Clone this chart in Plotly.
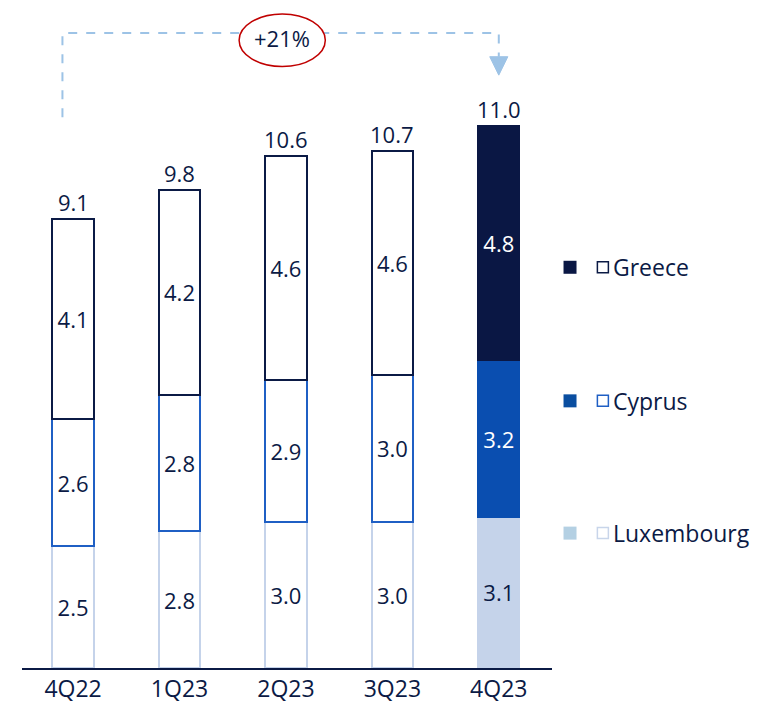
import plotly.graph_objects as go

# Data
quarters = ["4Q22", "1Q23", "2Q23", "3Q23", "4Q23"]
luxembourg = [2.5, 2.8, 3.0, 3.0, 3.1]
cyprus = [2.6, 2.8, 2.9, 3.0, 3.2]
greece = [4.1, 4.2, 4.6, 4.6, 4.8]
totals = [9.1, 9.8, 10.6, 10.7, 11.0]
growth_label = "+21%"
legend_names = ["Greece", "Cyprus", "Luxembourg"]

navy = "#0b1a45"
font_family = "Open Sans, Noto Sans, sans-serif"

fig = go.Figure()

series = [
    ("Luxembourg", luxembourg, "#c5d3ea", "#c5d3ea", navy),
    ("Cyprus", cyprus, "#0a4eb0", "#1f5fc4", "white"),
    ("Greece", greece, "#0a1744", navy, "white"),
]
n = len(quarters)
for name, vals, fill, outline, last_text in series:
    fills = ["white"] * (n - 1) + [fill]
    lines = [outline] * (n - 1) + [fill]
    tcols = [navy] * (n - 1) + [last_text]
    fig.add_trace(go.Bar(
        x=quarters, y=vals, name=name,
        width=0.39,
        marker=dict(color=fills, line=dict(color=lines, width=1.8)),
        text=[f"{v:.1f}" for v in vals],
        textposition="inside", insidetextanchor="middle",
        constraintext="none",
        textfont=dict(size=22, color=tcols, family=font_family),
        showlegend=False, hoverinfo="skip",
    ))

# totals on top of stacks
for i, q in enumerate(quarters):
    stack = luxembourg[i] + cyprus[i] + greece[i]
    fig.add_annotation(x=q, y=stack, text=f"{totals[i]:.1f}", showarrow=False,
                       yanchor="bottom", yshift=0,
                       font=dict(size=22, color=navy, family=font_family))

# growth bracket
dash_col = "#9dc3e6"
fig.add_shape(type="path", xref="x", yref="paper",
              path="M -0.1,0.837 L -0.1,0.965 L 4.0,0.965 L 4.0,0.929",
              line=dict(color=dash_col, width=2, dash="dash"))
fig.add_shape(type="path", xref="x", yref="paper",
              path="M 3.915,0.929 L 4.085,0.929 L 4.0,0.901 Z",
              fillcolor=dash_col, line=dict(color=dash_col, width=1))
fig.add_shape(type="circle", xref="x", yref="paper",
              x0=1.56, x1=2.37, y0=0.914, y1=0.994,
              fillcolor="white", line=dict(color="#c00000", width=1.5))
fig.add_annotation(x=1.965, y=0.957, xref="x", yref="paper", text=growth_label,
                   showarrow=False, xanchor="center", yanchor="middle",
                   font=dict(size=22, color=navy, family=font_family))

# custom legend
leg_y = [0.609, 0.406, 0.205]
leg_fill = ["#0a1744", "#0a4ea0", "#b4d0e3"]
leg_line = [navy, "#1f5fc4", "#c8d5ea"]
for name, y, fc, lc in zip(legend_names, leg_y, leg_fill, leg_line):
    fig.add_shape(type="rect", xref="paper", yref="paper",
                  xsizemode="pixel", ysizemode="pixel", xanchor=1.034, yanchor=y,
                  x0=-6.5, x1=6.5, y0=-6.5, y1=6.5,
                  fillcolor=fc, line=dict(width=0))
    fig.add_shape(type="rect", xref="paper", yref="paper",
                  xsizemode="pixel", ysizemode="pixel", xanchor=1.096, yanchor=y,
                  x0=-5.5, x1=5.5, y0=-5.5, y1=5.5,
                  fillcolor="white", line=dict(color=lc, width=1.5))
    fig.add_annotation(x=1.111, y=y, xref="paper", yref="paper", text=name,
                       showarrow=False, xanchor="left", yanchor="middle",
                       font=dict(size=23, color=navy, family=font_family))

# page body has an 8px margin, so shift the figure up/left to compensate
fig.update_layout(
    width=774, height=708, autosize=False,
    barmode="stack",
    plot_bgcolor="white", paper_bgcolor="white",
    margin=dict(l=14, r=230, t=2, b=48),
    font=dict(family=font_family, color=navy),
    xaxis=dict(range=[-0.48, 4.5], showline=True, linecolor=navy, linewidth=1.5,
               ticks="", showgrid=False, tickfont=dict(size=23, color=navy)),
    yaxis=dict(range=[0, 658 / 48.8], visible=False, showgrid=False),
)

fig.write_html("out.html")
